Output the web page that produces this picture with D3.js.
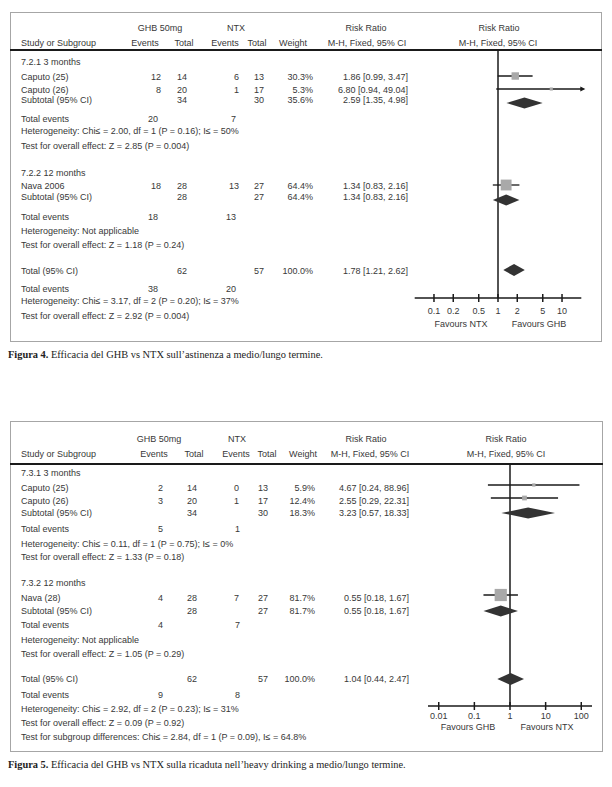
<!DOCTYPE html>
<html><head><meta charset="utf-8">
<script src="https://cdn.jsdelivr.net/npm/d3@7"></script>
<style>
body{margin:0;background:#fff}
svg{display:block}
text{font-family:"Liberation Sans",Arial,sans-serif;font-size:9px;fill:#383838}
text.cap{font-family:"Liberation Serif","Times New Roman",serif;font-size:10.4px;fill:#222}
</style>
</head><body><svg id="c" width="612" height="787"></svg>
<script>
// ---------- DATA ----------
const headTop = ["GHB 50mg", "NTX", "Risk Ratio", "Risk Ratio"];
const headSub = ["Study or Subgroup", "Events", "Total", "Events", "Total", "Weight", "M-H, Fixed, 95% CI", "M-H, Fixed, 95% CI"];

// Figure 4
const fig4Groups = ["7.2.1 3 months", "7.2.2 12 months"];
const fig4Studies = [
  {name: "Caputo (25)", e1: 12, n1: 14, e2: 6, n2: 13, weight: 30.3, rr: 1.86, lo: 0.99, hi: 3.47},
  {name: "Caputo (26)", e1: 8, n1: 20, e2: 1, n2: 17, weight: 5.3, rr: 6.80, lo: 0.94, hi: 49.04},
  {name: "Nava 2006", e1: 18, n1: 28, e2: 13, n2: 27, weight: 64.4, rr: 1.34, lo: 0.83, hi: 2.16}
];
const fig4Pooled = [
  {name: "Subtotal (95% CI)", n1: 34, n2: 30, weight: 35.6, rr: 2.59, lo: 1.35, hi: 4.98, kind: "sub"},
  {name: "Subtotal (95% CI)", n1: 28, n2: 27, weight: 64.4, rr: 1.34, lo: 0.83, hi: 2.16, kind: "sub"},
  {name: "Total (95% CI)", n1: 62, n2: 57, weight: 100.0, rr: 1.78, lo: 1.21, hi: 2.62, kind: "total"}
];
const fig4Events = [[20, 7], [18, 13], [38, 20]];
const fig4Notes = [
  "Heterogeneity: Chi≤ = 2.00, df = 1 (P = 0.16); I≤ = 50%",
  "Test for overall effect: Z = 2.85 (P = 0.004)",
  "Heterogeneity: Not applicable",
  "Test for overall effect: Z = 1.18 (P = 0.24)",
  "Heterogeneity: Chi≤ = 3.17, df = 2 (P = 0.20); I≤ = 37%",
  "Test for overall effect: Z = 2.92 (P = 0.004)"
];
const fig4Ticks = [0.1, 0.2, 0.5, 1, 2, 5, 10];
const fig4Favours = ["Favours NTX", "Favours GHB"];
const fig4Caption = ["Figura 4.", " Efficacia del GHB vs NTX sull\u2019astinenza a medio/lungo termine."];

// Figure 5
const fig5Groups = ["7.3.1 3 months", "7.3.2 12 months"];
const fig5Studies = [
  {name: "Caputo (25)", e1: 2, n1: 14, e2: 0, n2: 13, weight: 5.9, rr: 4.67, lo: 0.24, hi: 88.96},
  {name: "Caputo (26)", e1: 3, n1: 20, e2: 1, n2: 17, weight: 12.4, rr: 2.55, lo: 0.29, hi: 22.31},
  {name: "Nava (28)", e1: 4, n1: 28, e2: 7, n2: 27, weight: 81.7, rr: 0.55, lo: 0.18, hi: 1.67}
];
const fig5Pooled = [
  {name: "Subtotal (95% CI)", n1: 34, n2: 30, weight: 18.3, rr: 3.23, lo: 0.57, hi: 18.33, kind: "sub"},
  {name: "Subtotal (95% CI)", n1: 28, n2: 27, weight: 81.7, rr: 0.55, lo: 0.18, hi: 1.67, kind: "sub"},
  {name: "Total (95% CI)", n1: 62, n2: 57, weight: 100.0, rr: 1.04, lo: 0.44, hi: 2.47, kind: "total"}
];
const fig5Events = [[5, 1], [4, 7], [9, 8]];
const fig5Notes = [
  "Heterogeneity: Chi≤ = 0.11, df = 1 (P = 0.75); I≤ = 0%",
  "Test for overall effect: Z = 1.33 (P = 0.18)",
  "Heterogeneity: Not applicable",
  "Test for overall effect: Z = 1.05 (P = 0.29)",
  "Heterogeneity: Chi≤ = 2.92, df = 2 (P = 0.23); I≤ = 31%",
  "Test for overall effect: Z = 0.09 (P = 0.92)",
  "Test for subgroup differences: Chi≤ = 2.84, df = 1 (P = 0.09), I≤ = 64.8%"
];
const fig5Ticks = [0.01, 0.1, 1, 10, 100];
const fig5Favours = ["Favours GHB", "Favours NTX"];
const fig5Caption = ["Figura 5.", " Efficacia del GHB vs NTX sulla ricaduta nell\u2019heavy drinking a medio/lungo termine."];

// ---------- LAYOUT ----------
const fig4 = {
  groups: fig4Groups, studies: fig4Studies, pooled: fig4Pooled, events: fig4Events, notes: fig4Notes,
  ticks: fig4Ticks, favours: fig4Favours, caption: fig4Caption,
  order: ["g0","s0","s1","p0","e0","n0","n1","g1","s2","p1","e1","n2","n3","p2","e2","n4","n5"],
  rowY: [62,77,90,100,119,131,146,173,186,197,217,231,245,271,289,301,316],
  box: [10, 12, 601, 341], head1: 28, head2: 43, headLine: 50,
  topX: [160, 236, 366, 499], subX: [21, 145, 184, 225, 257, 293, 367, 498],
  col: {e1: 161, n1: 187, e2: 239, n2: 264, w: 313, ci: 408, te1: 158, te2: 236},
  forest: {range: [414.7, 581.3], domain: [0.05, 20], axisY: 298, labelY: 311, favY: 324, favX: [461, 539]},
  off: {study: -1, sub: 3, total: -1},
  capY: 354
};
const fig5 = {
  groups: fig5Groups, studies: fig5Studies, pooled: fig5Pooled, events: fig5Events, notes: fig5Notes,
  ticks: fig5Ticks, favours: fig5Favours, caption: fig5Caption,
  order: ["g0","s0","s1","p0","e0","n0","n1","g1","s2","p1","e1","n2","n3","p2","e2","n4","n5","n6"],
  rowY: [473,488,501,513,529,544,557,583,598,611,625,640,654,679,695,709,723,737],
  box: [10, 421, 602, 751], head1: 439, head2: 454, headLine: 464,
  topX: [159, 237, 366, 506], subX: [21, 154, 194, 236, 267, 303, 370, 506],
  col: {e1: 163, n1: 197, e2: 239, n2: 268, w: 315, ci: 409, te1: 163, te2: 240},
  forest: {range: [428, 592], domain: [0.005, 200], axisY: 706, labelY: 716, favY: 727, favX: [468, 547]},
  off: {study: -3, sub: 0, total: 0},
  capY: 764
};

// ---------- DRAW ----------
const svg = d3.select("#c");
svg.append("rect").attr("width", 612).attr("height", 787).attr("fill", "#fff");

const fmt2 = d3.format(".2f"), fmt1 = d3.format(".1f");
const ciText = d => `${fmt2(d.rr)} [${fmt2(d.lo)}, ${fmt2(d.hi)}]`;

function render(F) {
  const g = svg.append("g");
  const B = F.box;
  g.append("rect").attr("x", B[0] + 0.5).attr("y", B[1] + 0.5)
    .attr("width", B[2] - B[0]).attr("height", B[3] - B[1])
    .attr("fill", "none").attr("stroke", "#a6a6a6").attr("stroke-width", 1);
  g.append("line").attr("x1", B[0]).attr("x2", B[2] + 1).attr("y1", F.headLine).attr("y2", F.headLine)
    .attr("stroke", "#1a1a1a").attr("stroke-width", 2);

  const txt = (x, y, s, anchor) => g.append("text").attr("x", x).attr("y", y).attr("dy", "0.35em")
    .attr("text-anchor", anchor || "start").text(s);

  headTop.forEach((h, i) => txt(F.topX[i], F.head1, h, "middle"));
  headSub.forEach((h, i) => txt(F.subX[i], F.head2, h, i === 0 ? "start" : "middle"));

  const x = d3.scaleLog().domain(F.forest.domain).range(F.forest.range);
  const fx = F.forest;
  const x1 = x(1);
  const C = F.col;

  g.append("line").attr("x1", x1).attr("x2", x1).attr("y1", F.headLine).attr("y2", fx.axisY)
    .attr("stroke", "#1a1a1a").attr("stroke-width", 1.5);

  const marks = g.append("g");

  F.order.forEach((key, r) => {
    const y = F.rowY[r];
    const k = key[0], idx = +key.slice(1);
    if (k === "g") {
      txt(F.subX[0], y, F.groups[idx]);
    } else if (k === "n") {
      txt(F.subX[0], y, F.notes[idx]);
    } else if (k === "e") {
      txt(F.subX[0], y, "Total events");
      txt(C.te1, y, F.events[idx][0], "end");
      txt(C.te2, y, F.events[idx][1], "end");
    } else if (k === "s") {
      const d = F.studies[idx];
      txt(F.subX[0], y, d.name);
      txt(C.e1, y, d.e1, "end"); txt(C.n1, y, d.n1, "end");
      txt(C.e2, y, d.e2, "end"); txt(C.n2, y, d.n2, "end");
      txt(C.w, y, fmt1(d.weight) + "%", "end");
      txt(C.ci, y, ciText(d), "end");
      const my = y + F.off.study;
      const [dmin, dmax] = fx.domain;
      const xl = d.lo < dmin ? fx.range[0] : x(d.lo);
      const xr = d.hi > dmax ? fx.range[1] + 2 : x(d.hi);
      marks.append("line").attr("x1", xl).attr("x2", xr).attr("y1", my).attr("y2", my)
        .attr("stroke", "#1a1a1a").attr("stroke-width", 1.3);
      if (d.hi > dmax) {
        marks.append("path").attr("d", `M${xr + 2},${my} L${xr - 3},${my - 2.5} L${xr - 3},${my + 2.5} Z`).attr("fill", "#1a1a1a");
      }
      const s = 1.35 * Math.sqrt(d.weight);
      if (d.rr <= dmax) {
        marks.append("rect").attr("x", x(d.rr) - s / 2).attr("y", my - s / 2)
          .attr("width", s).attr("height", s).attr("fill", "#a9a9a9");
      }
    } else if (k === "p") {
      const d = F.pooled[idx];
      txt(F.subX[0], y, d.name);
      txt(C.n1, y, d.n1, "end"); txt(C.n2, y, d.n2, "end");
      txt(C.w, y, fmt1(d.weight) + "%", "end");
      txt(C.ci, y, ciText(d), "end");
      const my = y + (d.kind === "total" ? F.off.total : F.off.sub);
      const h = d.kind === "total" ? 6 : 5.5;
      marks.append("path")
        .attr("d", `M${x(d.lo)},${my} L${x(d.rr)},${my - h} L${x(d.hi)},${my} L${x(d.rr)},${my + h} Z`)
        .attr("fill", "#333");
    }
  });

  const ax = g.append("g").attr("transform", `translate(0,${fx.axisY})`);
  ax.append("line").attr("x1", fx.range[0]).attr("x2", fx.range[1]).attr("stroke", "#1a1a1a").attr("stroke-width", 1.5);
  const tk = ax.selectAll("g.t").data(F.ticks).join("g").attr("class", "t")
    .attr("transform", d => `translate(${x(d)},0)`);
  tk.append("line").attr("y1", -4).attr("y2", 4).attr("stroke", "#1a1a1a").attr("stroke-width", 1.5);
  tk.append("text").attr("y", fx.labelY - fx.axisY).attr("dy", "0.35em").attr("text-anchor", "middle").text(d => String(d));
  F.favours.forEach((f, i) => txt(fx.favX[i], fx.favY, f, "middle"));

  const cap = svg.append("text").attr("class", "cap").attr("x", 8).attr("y", F.capY).attr("dy", "0.35em");
  cap.append("tspan").attr("font-weight", "bold").text(F.caption[0]);
  cap.append("tspan").text(F.caption[1]);
}

render(fig4);
render(fig5);
</script>
</body></html>
